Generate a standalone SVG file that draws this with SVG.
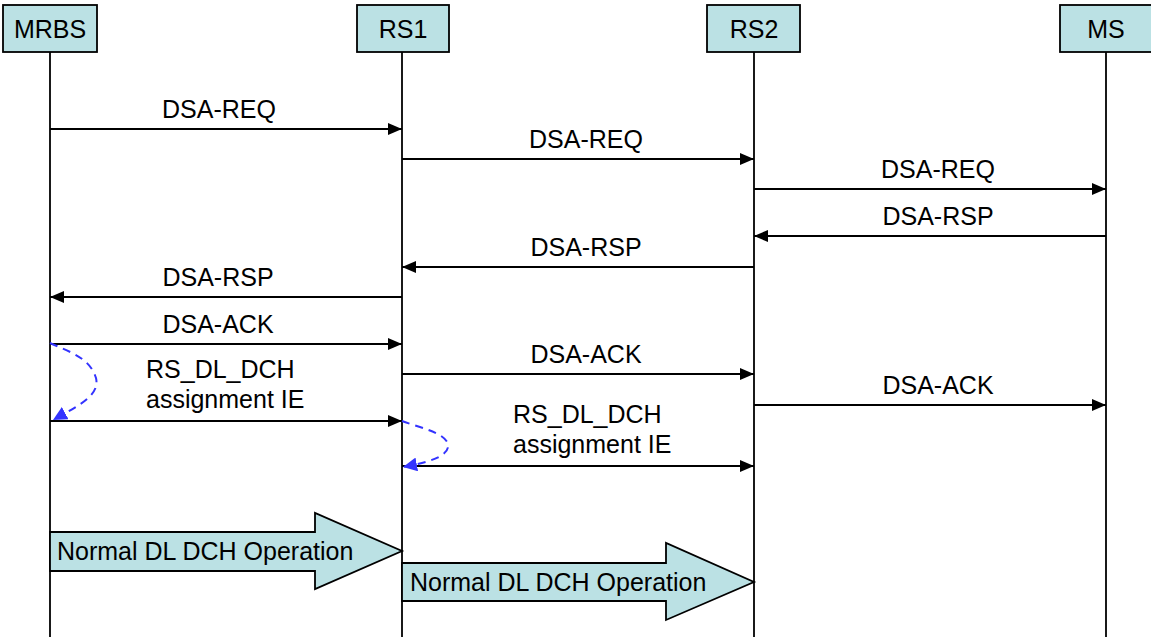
<svg xmlns="http://www.w3.org/2000/svg" width="1151" height="637" viewBox="0 0 1151 637">
<defs>
<style>
.box{fill:#BBE1E4;stroke:#000;stroke-width:1.8}
.life{stroke:#000;stroke-width:1.8;fill:none}
.msg{stroke:#000;stroke-width:1.8;fill:none;marker-end:url(#ah)}
.t{font-family:"Liberation Sans",Arial,sans-serif;font-size:25px;fill:#000}
.c{text-anchor:middle}
.dash{stroke:#3333FF;stroke-width:2;fill:none;stroke-dasharray:8,6;marker-end:url(#bh)}
.big{fill:#BBE1E4;stroke:#000;stroke-width:1.8}
</style>
<marker id="ah" viewBox="0 0 14 12" refX="14" refY="6" markerWidth="14" markerHeight="12" markerUnits="userSpaceOnUse" orient="auto"><path d="M0,0 L14,6 L0,12 Z" fill="#000"/></marker>
<marker id="bh" viewBox="0 0 12 12" refX="12" refY="6" markerWidth="14" markerHeight="14" markerUnits="userSpaceOnUse" orient="auto"><path d="M0,0 L12,6 L0,12 Z" fill="#3333FF"/></marker>
</defs>
<rect width="1151" height="637" fill="#fff"/>
<g id="lifelines">
<line class="life" x1="50" y1="52" x2="50" y2="637"/>
<line class="life" x1="402" y1="52" x2="402" y2="637"/>
<line class="life" x1="754" y1="52" x2="754" y2="637"/>
<line class="life" x1="1106" y1="52" x2="1106" y2="637"/>
</g>
<g id="node-mrbs"><rect class="box" x="3" y="5" width="94" height="47"/><text class="t c" x="50" y="38">MRBS</text></g>
<g id="node-rs1"><rect class="box" x="357" y="5" width="92" height="47"/><text class="t c" x="403" y="38">RS1</text></g>
<g id="node-rs2"><rect class="box" x="707" y="5" width="93" height="47"/><text class="t c" x="754" y="38">RS2</text></g>
<g id="node-ms"><rect class="box" x="1060" y="5" width="93" height="47"/><text class="t c" x="1106" y="38">MS</text></g>
<g id="connectors">
<line class="msg" x1="50" y1="129" x2="402" y2="129"/>
<line class="msg" x1="402" y1="159" x2="754" y2="159"/>
<line class="msg" x1="754" y1="189" x2="1106" y2="189"/>
<line class="msg" x1="1106" y1="236" x2="754" y2="236"/>
<line class="msg" x1="754" y1="267" x2="402" y2="267"/>
<line class="msg" x1="402" y1="297" x2="50" y2="297"/>
<line class="msg" x1="50" y1="344" x2="402" y2="344"/>
<line class="msg" x1="402" y1="374" x2="754" y2="374"/>
<line class="msg" x1="754" y1="405" x2="1106" y2="405"/>
<line class="msg" x1="50" y1="421" x2="402" y2="421"/>
<line class="msg" x1="402" y1="466" x2="754" y2="466"/>
<path class="dash" d="M50,343 C70,352 90,358 96,378 C100,395 80,405 53,420"/>
<path class="dash" d="M402,421 C420,428 444,432 448,444 C450,456 430,462 403,467"/>
</g>
<g id="labels">
<text class="t c" x="219" y="118">DSA-REQ</text>
<text class="t c" x="586" y="148">DSA-REQ</text>
<text class="t c" x="938" y="178">DSA-REQ</text>
<text class="t c" x="938" y="225">DSA-RSP</text>
<text class="t c" x="586" y="256">DSA-RSP</text>
<text class="t c" x="218" y="286">DSA-RSP</text>
<text class="t c" x="218" y="333">DSA-ACK</text>
<text class="t c" x="586" y="363">DSA-ACK</text>
<text class="t c" x="938" y="394">DSA-ACK</text>
<text class="t" x="146" y="378">RS_DL_DCH</text>
<text class="t" x="146" y="408">assignment IE</text>
<text class="t" x="513" y="423">RS_DL_DCH</text>
<text class="t" x="513" y="453">assignment IE</text>
</g>
<g id="node-op1"><path class="big" d="M50,532 L315,532 L315,513 L402,551 L315,589 L315,571 L50,571 Z"/><text class="t" x="57" y="560">Normal DL DCH Operation</text></g>
<g id="node-op2"><path class="big" d="M402,563 L666,563 L666,543 L754,582 L666,620 L666,601 L402,601 Z"/><text class="t" x="410" y="591">Normal DL DCH Operation</text></g>
</svg>
